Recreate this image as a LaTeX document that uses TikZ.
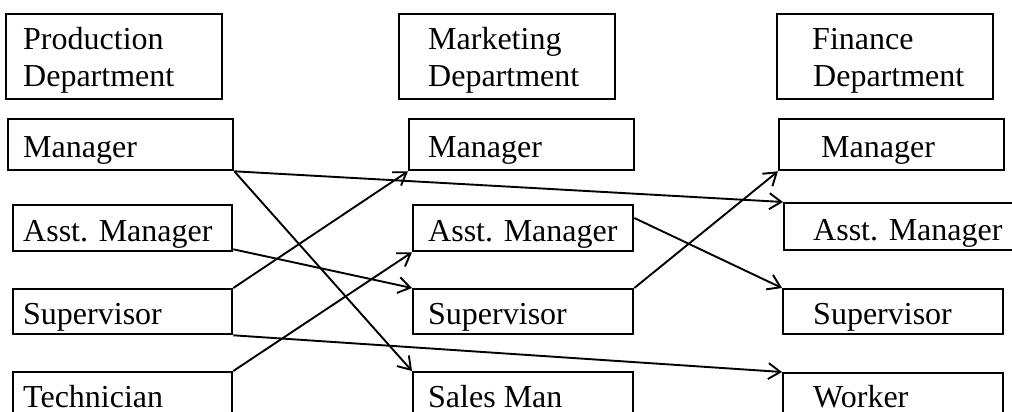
\documentclass[tikz,border=0pt]{standalone}
\usepackage{fontspec}
\setmainfont{Liberation Serif}
\usetikzlibrary{arrows.meta}
\tikzset{
	box/.style={draw, line width=2.3pt, anchor=north west, inner sep=0pt},
	lbl/.style={anchor=base west, inner sep=0pt, font=\fontsize{32}{37}\selectfont},
	link/.style={line width=1.9pt, -{Straight Barb[length=12pt,width=16pt,line width=1.9pt]}}
}
\begin{document}
\begin{tikzpicture}[x=1pt,y=-1pt]
	\useasboundingbox (0,0) rectangle (1012,412);
	\clip (0,0) rectangle (1012,412);
	% production
	\node[box, minimum width=216, minimum height=85] (pd) at (5,13) {};
	\node[box, minimum width=225, minimum height=51] (pm) at (7,118) {};
	\node[box, minimum width=219, minimum height=46] (pa) at (12,204) {};
	\node[box, minimum width=219, minimum height=45] (ps) at (12,288) {};
	\node[box, minimum width=219, minimum height=50] (pt) at (12,371) {};
	\node[lbl] (pd1) at (23,50) {Production};
	\node[lbl] (pd2) at (23,87) {Department};
	\node[lbl] (pml) at (23,157) {Manager};
	\node[lbl] (pal) at (23,241) {Asst. Manager};
	\node[lbl] (psl) at (23,324) {Supervisor};
	\node[lbl] (ptl) at (23,407) {Technician};
	% marketing
	\node[box, minimum width=216, minimum height=85] (md) at (398,13) {};
	\node[box, minimum width=225, minimum height=51] (mm) at (408,118) {};
	\node[box, minimum width=220, minimum height=46] (ma) at (412,204) {};
	\node[box, minimum width=220, minimum height=45] (ms) at (412,288) {};
	\node[box, minimum width=220, minimum height=50] (mw) at (412,371) {};
	\node[lbl] (md1) at (428,50) {Marketing};
	\node[lbl] (md2) at (428,87) {Department};
	\node[lbl] (mml) at (428,157) {Manager};
	\node[lbl] (mal) at (428,241) {Asst. Manager};
	\node[lbl] (msl) at (428,324) {Supervisor};
	\node[lbl] (mwl) at (428,407) {Sales Man};
	% finance
	\node[box, minimum width=216, minimum height=85] (fd) at (776,13) {};
	\node[box, minimum width=225, minimum height=51] (fm) at (778,118) {};
	\node[box, minimum width=240, minimum height=47] (fa) at (783,202) {};
	\node[box, minimum width=220, minimum height=45] (fs) at (782,288) {};
	\node[box, minimum width=220, minimum height=50] (fw) at (782,372) {};
	\node[lbl] (fd1) at (812,50) {Finance};
	\node[lbl] (fd2) at (813,87) {Department};
	\node[lbl] (fml) at (821,157) {Manager};
	\node[lbl] (fal) at (813,240) {Asst. Manager};
	\node[lbl] (fsl) at (813,324) {Supervisor};
	\node[lbl] (fwl) at (813,407) {Worker};
	% links
	\draw[link] (pm.south east) -- (mw.north west);
	\draw[link] (pm.south east) -- (fa.north west);
	\draw[link] ([yshift=3pt]pa.south east) -- (ms.north west);
	\draw[link] (ps.north east) -- (mm.south west);
	\draw[link] (ps.south east) -- (fw.north west);
	\draw[link] (pt.north east) -- (ma.south west);
	\draw[link] ([yshift=-14pt]ma.north east) -- (fs.north west);
	\draw[link] (ms.north east) -- (fm.south west);
\end{tikzpicture}
\end{document}
